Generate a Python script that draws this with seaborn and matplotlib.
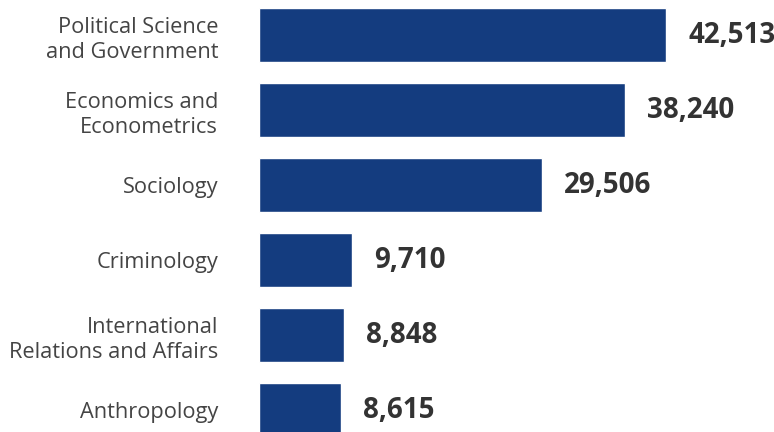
import matplotlib
matplotlib.use("Agg")
import matplotlib.pyplot as plt
import seaborn as sns
import pandas as pd

categories = ["Political Science\nand Government", "Economics and\nEconometrics", "Sociology",
              "Criminology", "International\nRelations and Affairs", "Anthropology"]
values = [42513, 38240, 29506, 9710, 8848, 8615]

df = pd.DataFrame({"category": categories, "value": values})

sns.set_theme(style="white")
plt.rcParams["font.family"] = ["Open Sans", "DejaVu Sans"]

fig = plt.figure(figsize=(7.74, 4.32), dpi=100)
ax = fig.add_axes([259/774, 0, 515/774, 1])
sns.barplot(data=df, x="value", y="category", orient="h", color="#143c7f",
            width=0.72, saturation=1, ax=ax)
ax.set_xlim(0, 515/0.009575)
ax.set_ylim((432-35)/75, -35/75)
for s in ax.spines.values():
    s.set_visible(False)
ax.set_xticks([])
ax.set_xlabel("")
ax.set_ylabel("")
ax.tick_params(axis="y", length=0, pad=29.5)
for t in ax.get_yticklabels():
    t.set_fontsize(15.7)
    t.set_color("#444444")
    t.set_linespacing(1.3)
for i, v in enumerate(values):
    ax.annotate(f"{v:,}", (v, i), xytext=(22, 0), textcoords="offset pixels",
                va="center", ha="left", fontsize=20, fontweight="bold", color="#333333")
fig.savefig("out.png", dpi=100)
